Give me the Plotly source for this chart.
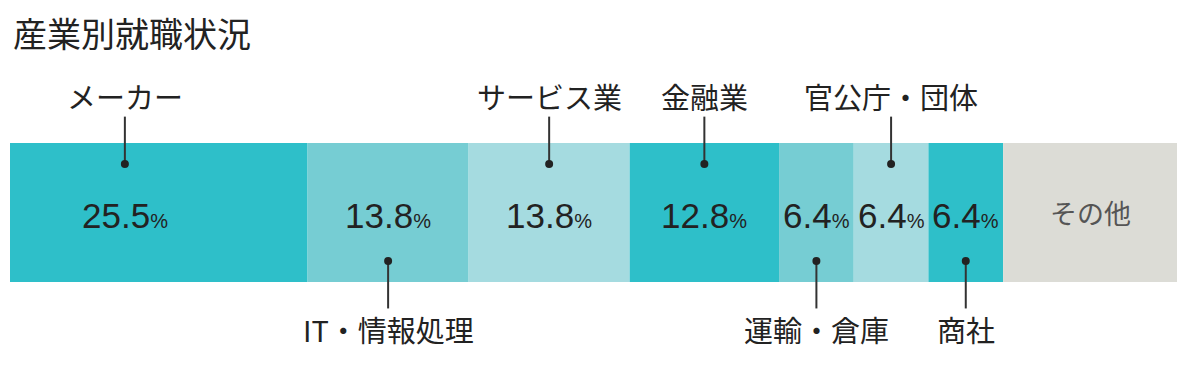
import plotly.graph_objects as go

categories = ["メーカー", "IT・情報処理", "サービス業", "金融業", "運輸・倉庫", "官公庁・団体", "商社", "その他"]
values = [25.5, 13.8, 13.8, 12.8, 6.4, 6.4, 6.4, 14.9]
colors = ["#2EBFC9", "#76CDD3", "#A5DBE0", "#2EBFC9", "#76CDD3", "#A5DBE0", "#2EBFC9", "#DCDCD6"]
label_side = ["top", "bottom", "top", "top", "bottom", "top", "bottom", "none"]
anchor_frac = [0.386, 0.5, 0.5, 0.5, 0.5, 0.5, 0.5, 0.5]
title = "産業別就職状況"

bases = []
acc = 0
for v in values:
    bases.append(acc)
    acc += v
anchors = [b + v * f for b, v, f in zip(bases, values, anchor_frac)]

W, H = 1200, 366
fig = go.Figure()
fig.add_trace(go.Bar(
    x=values, y=[0] * len(values), base=bases, orientation="h",
    marker=dict(color=colors, line=dict(width=0)), width=1,
    hoverinfo="skip", showlegend=False,
))

CJK = "Noto Sans CJK JP"
NUM = "Liberation Sans"
dot_y, line_y, lab_y = 0.349, 0.69, 0.835

lx, ly, dx, dy = [], [], [], []
for cat, v, a, side in zip(categories, values, anchors, label_side):
    if side == "none":
        fig.add_annotation(x=a, y=0, text=cat, showarrow=False,
                           font=dict(family=CJK, size=27, color="#555555"))
        continue
    s = 1 if side == "top" else -1
    lx += [a, a, None]
    ly += [s * dot_y, s * line_y, None]
    dx.append(a)
    dy.append(s * dot_y)
    fig.add_annotation(x=a, y=s * lab_y, text=cat, showarrow=False,
                       font=dict(family=CJK, size=29, color="#222222"))
    fig.add_annotation(x=a, y=-0.02, text=f"{v}<span style='font-size:20px'>%</span>",
                       showarrow=False, font=dict(family=NUM, size=35, color="#222222"))

fig.add_trace(go.Scatter(x=lx, y=ly, mode="lines", line=dict(color="#333333", width=2),
                         hoverinfo="skip", showlegend=False))
fig.add_trace(go.Scatter(x=dx, y=dy, mode="markers", marker=dict(color="#222222", size=8),
                         hoverinfo="skip", showlegend=False))

fig.add_annotation(xref="paper", yref="paper", x=0, y=0.91, xanchor="left", yanchor="middle",
                   xshift=1, text=title, showarrow=False,
                   font=dict(family=CJK, size=34, color="#222222"))

fig.update_layout(
    width=W, height=H, margin=dict(l=10, r=23, t=0, b=0),
    paper_bgcolor="white", plot_bgcolor="white", barmode="stack",
    xaxis=dict(range=[0, 100], visible=False, fixedrange=True),
    yaxis=dict(range=[-1.104, 1.529], visible=False, fixedrange=True),
)
fig.write_html("out.html")
